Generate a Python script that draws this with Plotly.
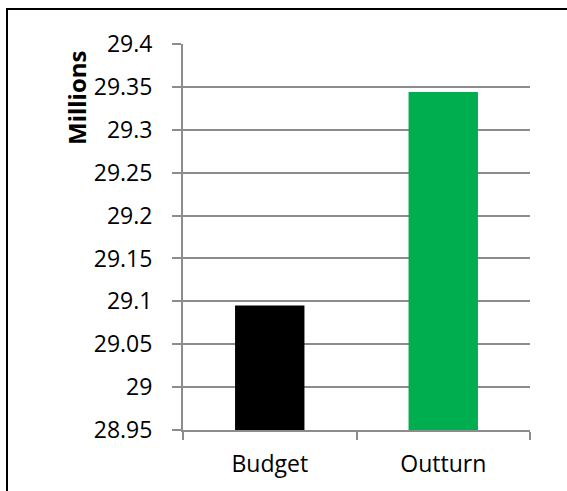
import plotly.graph_objects as go

categories = ["Budget", "Outturn"]
values = [29.095, 29.344]
colors = ["#000000", "#00AD4F"]
y_ticks = [28.95, 29, 29.05, 29.1, 29.15, 29.2, 29.25, 29.3, 29.35, 29.4]
y_tick_text = ["28.95", "29", "29.05", "29.1", "29.15", "29.2", "29.25", "29.3", "29.35", "29.4"]

W, H = 567, 491
L, R, T, B = 183, 37, 44, 61
pw, ph = W - L - R, H - T - B

font_family = "Open Sans, Liberation Sans, sans-serif"
grid = "#8c8c8c"

fig = go.Figure(go.Bar(
    x=categories, y=values, marker=dict(color=colors, line=dict(width=0)),
    width=0.4,
))

fig.update_layout(
    width=W, height=H,
    margin=dict(l=L, r=R, t=T, b=B, pad=0),
    paper_bgcolor="white", plot_bgcolor="white",
    showlegend=False,
    font=dict(family=font_family, size=23, color="#000000"),
    xaxis=dict(
        showline=True, linecolor=grid, linewidth=2,
        ticks="outside", tickson="boundaries", ticklen=8, tickcolor=grid, tickwidth=2,
        showgrid=False, tickfont=dict(size=23), ticklabelstandoff=12,
    ),
    yaxis=dict(
        range=[28.95, 29.4], tickvals=y_ticks, ticktext=y_tick_text,
        showline=True, linecolor=grid, linewidth=2,
        ticks="outside", ticklen=9, tickcolor=grid, tickwidth=2,
        showgrid=True, gridcolor=grid, gridwidth=2, zeroline=False,
        tickfont=dict(size=23), ticklabelstandoff=15,
    ),
)

# axis title placed near the top of the value axis
fig.add_annotation(
    text="<b>Millions</b>", textangle=-90, showarrow=False,
    xref="paper", yref="paper",
    x=(76 - L) / pw, y=1 - (97 - T) / ph,
    xanchor="center", yanchor="middle",
    font=dict(size=24, family=font_family, color="#000000"),
)

# chart frame (left and top edges)
fig.add_shape(
    type="path", xref="paper", yref="paper",
    path=f"M {(7 - L) / pw} {-(H - T - ph + 5) / ph} L {(7 - L) / pw} {1 + (T - 9) / ph} L {(W + 5 - L) / pw} {1 + (T - 9) / ph}",
    line=dict(color="#000000", width=2),
)

fig.write_html("out.html")
